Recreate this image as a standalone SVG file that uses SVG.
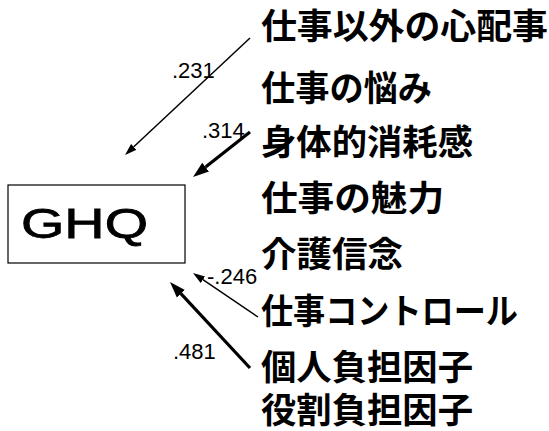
<svg xmlns="http://www.w3.org/2000/svg" width="549" height="431" viewBox="0 0 549 431">
<style>
.jp{font-family:"Noto Sans CJK JP","Noto Sans CJK SC",sans-serif;font-size:35px;font-weight:bold;fill:#000}
.num{font-family:"Liberation Sans",Arial,sans-serif;font-size:22px;fill:#000}
.thin{stroke:#000;stroke-width:1.5;fill:none}
.thick{stroke:#000;stroke-width:3.2;fill:none}
</style>
<defs>
<marker id="ah" viewBox="0 -5 12 10" markerWidth="12" markerHeight="10" refX="0" refY="0" orient="auto" markerUnits="userSpaceOnUse">
<path d="M0,-4 L12,0 L0,4 z" fill="#000"/>
</marker>
<marker id="ahb" viewBox="0 -6 16 12" markerWidth="16" markerHeight="12" refX="0" refY="0" orient="auto" markerUnits="userSpaceOnUse">
<path d="M0,-5.5 L16,0 L0,5.5 z" fill="#000"/>
</marker>
</defs>
<rect width="549" height="431" fill="#fff"/>
<g id="ghq">
<rect x="8" y="185" width="177" height="78" fill="#fff" stroke="#000" stroke-width="1.2"/>
<text x="21" y="238" font-family="'Liberation Sans',Arial,sans-serif" font-size="43" stroke="#000" stroke-width="0.8" textLength="127" lengthAdjust="spacingAndGlyphs">GHQ</text>
</g>
<g id="n1"><text class="jp" x="261" y="39" textLength="287" lengthAdjust="spacingAndGlyphs">仕事以外の心配事</text></g>
<g id="n2"><text class="jp" x="261" y="101" textLength="171" lengthAdjust="spacingAndGlyphs">仕事の悩み</text></g>
<g id="n3"><text class="jp" x="261" y="155" textLength="212" lengthAdjust="spacingAndGlyphs">身体的消耗感</text></g>
<g id="n4"><text class="jp" x="261" y="211" textLength="183" lengthAdjust="spacingAndGlyphs">仕事の魅力</text></g>
<g id="n5"><text class="jp" x="261" y="267" textLength="142" lengthAdjust="spacingAndGlyphs">介護信念</text></g>
<g id="n6"><text class="jp" x="261" y="324" textLength="257" lengthAdjust="spacingAndGlyphs">仕事コントロール</text></g>
<g id="n7"><text class="jp" x="261" y="380" textLength="212" lengthAdjust="spacingAndGlyphs">個人負担因子</text></g>
<g id="n8"><text class="jp" x="261" y="423" textLength="212" lengthAdjust="spacingAndGlyphs">役割負担因子</text></g>
<g id="connectors">
<line class="thin" x1="250" y1="38" x2="133.8" y2="146.8" marker-end="url(#ah)"/>
<line class="thick" x1="250" y1="132" x2="205.6" y2="167.1" marker-end="url(#ahb)"/>
<line class="thin" x1="258" y1="317" x2="202.9" y2="279.7" marker-end="url(#ah)"/>
<line class="thick" x1="250" y1="368" x2="180.9" y2="293.7" marker-end="url(#ahb)"/>
<text class="num" x="172" y="78">.231</text>
<text class="num" x="202" y="138">.314</text>
<text class="num" x="207" y="284">-.246</text>
<text class="num" x="173" y="359">.481</text>
</g>
</svg>
